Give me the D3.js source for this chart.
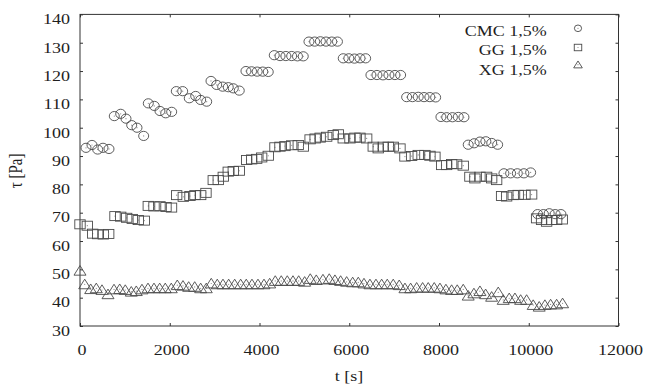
<!DOCTYPE html>
<html><head><meta charset="utf-8">
<script src="https://cdn.jsdelivr.net/npm/d3@7"></script>
<style>body{margin:0;background:#fff}svg{display:block}</style>
</head><body>
<svg id="c" width="645" height="385"></svg>
<script>
const xTicks = [0, 2000, 4000, 6000, 8000, 10000, 12000];
const yTicks = [30, 40, 50, 60, 70, 80, 90, 100, 110, 120, 130, 140];
const seriesNames = ["CMC 1,5%", "GG 1,5%", "XG 1,5%"];
const xTitle = "t [s]";
const yTitle = "τ [Pa]";

const cmcTime = [134,267,394,512,646, 764,907,1025,1152,1270,1419, 1522,1655,1782,1910,2043,
  2146,2288,2435,2578,2689,2823, 2919,3046,3179,3304,3416,3549, 3698,3823,3948,4072,4195,
  4329,4458,4588,4717,4846,4975, 5102,5229,5356,5483,5610,5737, 5866,5991,6116,6240,6365,
  6483,6617,6751,6884,7018,7145, 7279,7408,7537,7666,7796,7925, 8043,8172,8299,8429,8556,
  8651,8783,8914,9044,9175,9307, 9447,9596,9745,9892,10042, 10198,10327,10456,10588,10717];
const cmcTau = [92.9,93.9,92.3,92.9,92.5, 104.1,104.9,103.2,100.9,100.0,97.1, 108.6,107.7,105.9,105.1,105.6,
  112.9,112.9,110.4,111.2,109.8,109.2, 116.5,115.1,114.5,114.3,113.9,113.1, 120.0,119.9,119.8,119.8,119.7,
  125.6,125.3,125.3,125.3,125.2,125.2, 130.4,130.4,130.5,130.4,130.4,130.4, 124.5,124.5,124.4,124.5,124.5,
  118.6,118.6,118.5,118.6,118.6,118.6, 110.8,110.8,110.9,110.8,110.8,110.7, 103.8,103.7,103.7,103.8,103.7,
  94.0,94.5,95.1,95.2,94.6,94.0, 83.9,83.9,83.9,83.9,84.2, 69.5,69.5,69.8,69.5,69.5];

const ggTime = [0,163,283,394,520,639, 780,907,1040,1165,1299,1433, 1522,1649,1782,1916,2039,
  2154,2302,2451,2562,2689,2807, 2970,3081,3193,3304,3416,3549, 3714,3825,3937,4048,4195,
  4345,4456,4567,4717,4864,4975, 5128,5240,5351,5497,5644,5755, 5866,6016,6127,6238,6388,
  6535,6646,6757,6869,6980,7130, 7241,7390,7537,7686,7798,7909, 8059,8170,8282,8393,8540,
  8689,8800,8912,9061,9173,9284, 9395,9507,9654,9765,9915,10064, 10175,10286,10398,10509,10621,10746];
const ggTau = [65.9,65.4,62.6,62.4,62.3,62.5, 68.8,68.6,68.2,67.8,67.4,67.2, 72.4,72.2,72.3,72.0,71.8,
  76.2,75.6,75.9,76.2,76.2,77.0, 81.5,81.5,82.7,84.5,84.7,84.8, 88.6,88.8,89.0,89.5,90.1,
  93.1,93.3,93.5,93.8,93.9,93.3, 95.9,96.2,96.5,96.8,97.4,97.7, 96.2,96.2,96.5,96.5,96.2,
  93.3,92.7,93.3,93.3,93.3,92.7, 89.8,90.0,90.4,90.4,90.1,89.8, 86.8,86.8,87.2,87.1,86.6,
  82.7,82.1,82.7,82.7,82.1,81.5, 75.9,75.7,76.2,76.3,76.3,76.4, 68.0,67.4,66.8,67.4,67.4,67.6];

const xgTime = [0,105,238,363,490,624,758,885,1009,1143,1254,1381,1515,1649,1776,1900,2034,2168,2295,2422,
  2556,2689,2814,2925,3059,3186,3313,3447,3580,3705,3832,3966,4100,4227,4351,4485,4619,4746,4873,5006,
  5131,5265,5414,5554,5681,5808,5942,6076,6201,6328,6461,6595,6722,6847,6980,7114,7241,7368,7502,7635,
  7760,7894,8021,8154,8281,8406,8540,8651,8778,8912,9039,9173,9320,9431,9565,9692,9819,9952,10099,10233,
  10360,10487,10621,10754];
const xgTau = [49.5,44.7,43.0,43.3,42.7,41.2,42.9,43.0,42.7,42.1,42.3,42.9,43.3,43.3,43.3,43.3,43.3,44.4,44.2,43.8,
  43.8,43.3,43.3,45.0,44.7,44.7,44.7,44.7,44.7,44.7,44.7,44.7,44.7,45.0,45.9,45.9,45.9,45.9,45.9,45.6,
  46.6,46.2,46.4,46.6,46.2,45.9,45.6,45.4,45.4,45.0,44.7,44.7,44.7,44.7,44.7,44.4,43.3,43.3,43.5,43.5,
  43.5,43.5,43.3,42.9,42.7,42.7,42.9,40.7,41.5,42.3,41.2,40.3,41.9,39.2,39.8,39.8,39.2,39.2,37.4,36.8,
  37.4,37.6,37.6,38.0];

const W = 645, H = 385;
const m = {left: 80, right: 618.5, top: 14.4, bottom: 326};
const FONT = "'Liberation Serif','Times New Roman',serif";
const INK = "#1e1e1e", MARK = "#4a4a4a";

const svg = d3.select("#c");
svg.append("rect").attr("width", W).attr("height", H).attr("fill", "#fff");

const x = d3.scaleLinear().domain([0, 12000]).range([m.left, m.right]);
const y = d3.scaleLinear().domain([30, 140]).range([m.bottom, m.top]);

function styleAxis(g) {
  g.select(".domain").remove();
  g.selectAll("line").attr("stroke", "#333").attr("stroke-width", 1);
  g.selectAll("text").style("font-family", FONT).style("font-size", "15px").attr("fill", INK);
}

// bottom axis
const gx = svg.append("g").attr("transform", `translate(0,${m.bottom})`)
  .call(d3.axisBottom(x).tickValues(xTicks).tickSizeInner(-3).tickSizeOuter(0).tickPadding(18.5).tickFormat(d3.format("d")));
styleAxis(gx);
gx.selectAll("text").attr("transform", "translate(1.5,0) scale(1.2,1)");

// left axis
const gy = svg.append("g").attr("transform", `translate(${m.left},0)`)
  .call(d3.axisLeft(y).tickValues(yTicks).tickSizeInner(-3).tickSizeOuter(0).tickPadding(8.4).tickFormat(d3.format("d")));
styleAxis(gy);
gy.selectAll("text").attr("dy", "0.62em").attr("transform", "scale(1.2,1)");

// top & right axes (ticks only)
const gt = svg.append("g").attr("transform", `translate(0,${m.top})`)
  .call(d3.axisTop(x).tickValues(xTicks).tickSizeInner(-3).tickSizeOuter(0).tickFormat(""));
styleAxis(gt);
const gr = svg.append("g").attr("transform", `translate(${m.right},0)`)
  .call(d3.axisRight(y).tickValues(yTicks).tickSizeInner(-3).tickSizeOuter(0).tickFormat(""));
styleAxis(gr);

// frame
svg.append("rect").attr("x", m.left).attr("y", m.top)
  .attr("width", m.right - m.left).attr("height", m.bottom - m.top)
  .attr("fill", "none").attr("stroke", "#333").attr("stroke-width", 1);

// markers
function drawMarker(g, type, big) {
  const s = big ? 1 : 0.72;
  if (type === "circle") {
    g.append("ellipse").attr("rx", 5 * s).attr("ry", 4.6 * s);
  } else if (type === "square") {
    g.append("rect").attr("x", -5.2 * s).attr("y", -4.5 * s).attr("width", 10.4 * s).attr("height", 9 * s);
  } else {
    g.append("path").attr("d", `M0,${-5.2 * s}L${6 * s},${4.4 * s}L${-6 * s},${4.4 * s}Z`);
  }
  g.selectAll("ellipse,rect,path").attr("fill", "none").attr("stroke", MARK).attr("stroke-width", 0.9);
  g.append("circle").attr("r", 0.6).attr("fill", "#888");
}

const series = [
  {name: seriesNames[0], type: "circle", t: cmcTime, v: cmcTau},
  {name: seriesNames[1], type: "square", t: ggTime, v: ggTau},
  {name: seriesNames[2], type: "triangle", t: xgTime, v: xgTau}
];

series.forEach(s => {
  const data = s.t.map((t, i) => ({t, v: s.v[i]}));
  svg.append("g").selectAll("g").data(data).join("g")
    .attr("transform", d => `translate(${x(d.t)},${y(d.v)})`)
    .each(function() { drawMarker(d3.select(this), s.type, true); });
});

// legend
const legY = [36, 55, 74.5];
const symY = [28.3, 47.5, 64.7];
series.forEach((s, i) => {
  svg.append("text").attr("transform", `translate(546.7,${legY[i]}) scale(1.2,1)`)
    .attr("text-anchor", "end").style("font-family", FONT).style("font-size", "15px")
    .attr("fill", INK).text(s.name);
  const g = svg.append("g").attr("transform", `translate(578,${symY[i]})`);
  drawMarker(g, s.type, false);
});

// axis titles
svg.append("text").attr("transform", `translate(349,381) scale(1.2,1)`)
  .attr("text-anchor", "middle").style("font-family", FONT).style("font-size", "15px")
  .attr("fill", INK).text(xTitle);
svg.append("text").attr("transform", `translate(21.5,171) rotate(-90) scale(1,1.2)`)
  .attr("text-anchor", "middle").style("font-family", FONT).style("font-size", "15px")
  .attr("fill", INK).text(yTitle);
</script>
</body></html>
